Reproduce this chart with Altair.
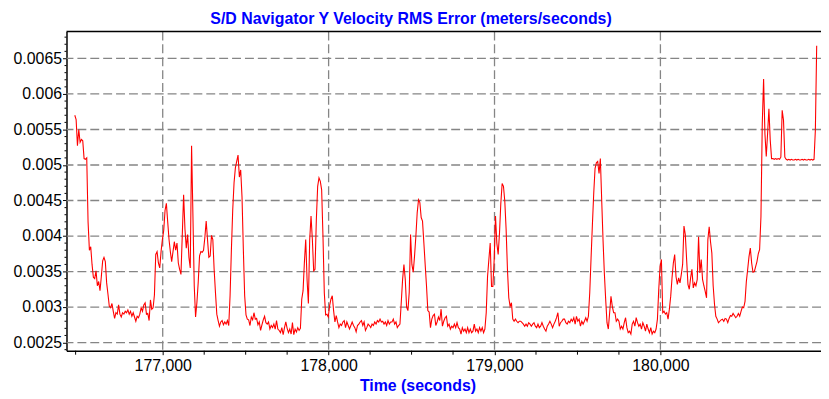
import altair as alt
import pandas as pd

# sample clock of the series (seconds), one sample every DT seconds
T0 = 176470
DT = 8

rms_error = [
    # segment 1
    0.00570, 0.00564, 0.00527, 0.00550, 0.00532, 0.00536, 0.00534, 0.00509, 0.00508, 0.00510,
    0.00420, 0.00380, 0.00385, 0.00360, 0.00342, 0.00340, 0.00351, 0.00330, 0.00336, 0.00323,
    0.00343, 0.00365, 0.00370, 0.00364, 0.00334, 0.00318, 0.00301, 0.00299, 0.00305, 0.00294,
    0.00284, 0.00292, 0.00290, 0.00303, 0.00290, 0.00286, 0.00292, 0.00290, 0.00294, 0.00292,
    0.00296, 0.00290, 0.00294, 0.00287, 0.00292, 0.00286, 0.00280, 0.00287, 0.00285, 0.00290,
    0.00299, 0.00294, 0.00303, 0.00306, 0.00290, 0.00291, 0.00281, 0.00310, 0.00297, 0.00299,
    0.00317, 0.00374, 0.00378, 0.00362, 0.00355, 0.00378, 0.00395, 0.00408, 0.00436, 0.00446,
    0.00420, 0.00395, 0.00378, 0.00364, 0.00378, 0.00392, 0.00380, 0.00390, 0.00362, 0.00353,
    0.00346, 0.00402, 0.00458, 0.00410, 0.00383, 0.00402, 0.00370, 0.00355, 0.00527, 0.00430,
    0.00330,
    # segment 2
    0.00286, 0.00306, 0.00335, 0.00372, 0.00378, 0.00377, 0.00380, 0.00398, 0.00421, 0.00395,
    0.00370, 0.00372, 0.00401, 0.00395, 0.00353, 0.00320, 0.00290, 0.00281, 0.00273, 0.00279,
    0.00281, 0.00275, 0.00279, 0.00276, 0.00281, 0.00274, 0.00316, 0.00381, 0.00437, 0.00475,
    0.00496, 0.00505, 0.00514, 0.00483, 0.00493, 0.00455, 0.00381, 0.00316, 0.00289, 0.00283,
    0.00282, 0.00274, 0.00286, 0.00282, 0.00292, 0.00283, 0.00284, 0.00275, 0.00279, 0.00267,
    0.00275, 0.00282, 0.00287, 0.00278, 0.00276, 0.00279, 0.00269, 0.00274, 0.00271, 0.00276,
    0.00269, 0.00281, 0.00269, 0.00267, 0.00264, 0.00271, 0.00261, 0.00271, 0.00279, 0.00270,
    0.00264, 0.00269, 0.00262, 0.00278, 0.00261, 0.00269, 0.00265, 0.00271, 0.00267, 0.00270,
    0.00311, 0.00323, 0.00363, 0.00395, 0.00339, 0.00305, 0.00395, 0.00428, 0.00395, 0.00351,
    0.00353, 0.00423, 0.00470,
    # segment 3
    0.00482, 0.00477, 0.00465, 0.00400, 0.00320, 0.00289, 0.00290, 0.00286, 0.00302, 0.00311,
    0.00316, 0.00295, 0.00279, 0.00288, 0.00279, 0.00271, 0.00276, 0.00274, 0.00279, 0.00281,
    0.00271, 0.00279, 0.00274, 0.00269, 0.00274, 0.00279, 0.00274, 0.00271, 0.00265, 0.00274,
    0.00276, 0.00279, 0.00281, 0.00274, 0.00279, 0.00267, 0.00271, 0.00276, 0.00274, 0.00271,
    0.00276, 0.00274, 0.00279, 0.00276, 0.00281, 0.00279, 0.00283, 0.00279, 0.00280, 0.00276,
    0.00279, 0.00274, 0.00281, 0.00276, 0.00279, 0.00279, 0.00283, 0.00276, 0.00279, 0.00271,
    0.00274, 0.00276, 0.00307, 0.00339, 0.00360, 0.00339, 0.00300, 0.00295, 0.00321, 0.00402,
    0.00360, 0.00349, 0.00372, 0.00400, 0.00433, 0.00451, 0.00447, 0.00426, 0.00421, 0.00391,
    0.00360, 0.00330, 0.00295, 0.00293, 0.00271, 0.00283, 0.00288, 0.00290, 0.00274, 0.00279,
    0.00286, 0.00281, 0.00297,
    # segment 4
    0.00273, 0.00280, 0.00285, 0.00287, 0.00273, 0.00276, 0.00269, 0.00273, 0.00271, 0.00276,
    0.00271, 0.00278, 0.00271, 0.00269, 0.00262, 0.00271, 0.00266, 0.00269, 0.00264, 0.00271,
    0.00264, 0.00269, 0.00264, 0.00266, 0.00276, 0.00266, 0.00269, 0.00264, 0.00271, 0.00266,
    0.00271, 0.00264, 0.00269, 0.00292, 0.00343, 0.00367, 0.00390, 0.00329, 0.00329, 0.00367,
    0.00428, 0.00390, 0.00374, 0.00404, 0.00446, 0.00474, 0.00470, 0.00449, 0.00409, 0.00353,
    0.00313, 0.00301, 0.00306, 0.00283, 0.00280, 0.00283, 0.00280, 0.00278, 0.00280, 0.00280,
    0.00278, 0.00276, 0.00273, 0.00276, 0.00273, 0.00278, 0.00276, 0.00273, 0.00276, 0.00278,
    0.00273, 0.00271, 0.00276, 0.00271, 0.00273, 0.00278, 0.00273, 0.00269, 0.00266, 0.00273,
    0.00276, 0.00280, 0.00276, 0.00271, 0.00276, 0.00280, 0.00285, 0.00292, 0.00273, 0.00278,
    0.00280, 0.00283, 0.00283,
    # segment 5
    0.00278, 0.00276, 0.00280, 0.00278, 0.00283, 0.00280, 0.00285, 0.00276, 0.00287, 0.00280,
    0.00283, 0.00273, 0.00280, 0.00276, 0.00280, 0.00285, 0.00280, 0.00287, 0.00320, 0.00369,
    0.00416, 0.00460, 0.00495, 0.00503, 0.00505, 0.00488, 0.00509, 0.00451, 0.00395, 0.00348,
    0.00311, 0.00278, 0.00269, 0.00292, 0.00315, 0.00301, 0.00292, 0.00292, 0.00280, 0.00283,
    0.00280, 0.00269, 0.00273, 0.00269, 0.00278, 0.00285, 0.00271, 0.00264, 0.00266, 0.00262,
    0.00276, 0.00280, 0.00273, 0.00285, 0.00278, 0.00273, 0.00276, 0.00269, 0.00278, 0.00273,
    0.00266, 0.00276, 0.00269, 0.00264, 0.00271, 0.00262, 0.00266, 0.00264, 0.00269, 0.00283,
    0.00325, 0.00357, 0.00367, 0.00292, 0.00294, 0.00290, 0.00292, 0.00283, 0.00297, 0.00315,
    0.00341, 0.00362, 0.00374, 0.00343, 0.00332, 0.00341, 0.00334, 0.00346, 0.00360, 0.00414,
    # segment 6
    0.00402, 0.00367, 0.00332, 0.00325, 0.00341, 0.00353, 0.00327, 0.00334, 0.00330, 0.00339,
    0.00399, 0.00348, 0.00367, 0.00339, 0.00330, 0.00322, 0.00313, 0.00395, 0.00413, 0.00392,
    0.00376, 0.00330, 0.00304, 0.00287, 0.00283, 0.00278, 0.00280, 0.00282, 0.00283, 0.00280,
    0.00284, 0.00283, 0.00278, 0.00284, 0.00288, 0.00287, 0.00291, 0.00288, 0.00285, 0.00287,
    0.00291, 0.00287, 0.00294, 0.00300, 0.00299, 0.00308, 0.00336, 0.00353, 0.00371, 0.00383,
    0.00362, 0.00349, 0.00350, 0.00357, 0.00364, 0.00375, 0.00381, 0.00427, 0.00558, 0.00621,
    0.00544, 0.00512, 0.00544, 0.00579, 0.00535, 0.00509, 0.00509, 0.00508, 0.00509, 0.00508,
    0.00509, 0.00508, 0.00511, 0.00577, 0.00563, 0.00511, 0.00508, 0.00507, 0.00508, 0.00507,
    0.00508, 0.00507, 0.00507, 0.00508, 0.00507, 0.00508, 0.00507, 0.00507, 0.00508, 0.00507,
    0.00508, 0.00507, 0.00507, 0.00508, 0.00507, 0.00508, 0.00507, 0.00508, 0.00549, 0.00668,
]
time_s = [T0 + DT * i for i in range(len(rms_error))]

X_MAJOR = [177000, 178000, 179000, 180000]
X_MINOR = [176475, 177250, 177500, 177750, 178250, 178500, 178750, 179250, 179500, 179750]
Y_MAJOR = [0.0025, 0.003, 0.0035, 0.004, 0.0045, 0.005, 0.0055, 0.006, 0.0065]
Y_MINOR = [round(0.0024 + 0.0001 * i, 4) for i in range(45)]
Y_MINOR = [v for v in Y_MINOR if round(v * 10000) % 5 != 0]

X_DOMAIN = [176420, 180968]
Y_DOMAIN = [0.002385, 0.00688]

W, H = 761, 322
FONT = "Liberation Sans"
BLUE = "#0000FF"
GRID = "#858585"

xscale = alt.Scale(domain=X_DOMAIN, nice=False, zero=False)
yscale = alt.Scale(domain=Y_DOMAIN, nice=False, zero=False)

xaxis = alt.Axis(
    values=X_MAJOR, labelExpr="format(datum.value, ',')", labelFont=FONT, labelFontSize=16,
    labelColor="#000000", tickSize=4, tickColor="#000000", labelPadding=3,
    domainColor="#000000", domainWidth=1.5, grid=False,
    title="Time (seconds)", titleFont=FONT, titleFontSize=16,
    titleFontWeight="bold", titleColor=BLUE, titleX=354, titleY=40,
    titleAlign="center", titleBaseline="alphabetic",
)
yaxis = alt.Axis(
    values=Y_MAJOR, labelExpr="format(datum.value, '.4~f')",
    labelFont=FONT, labelFontSize=16, labelColor="#000000",
    tickSize=4, tickColor="#000000", labelPadding=1,
    domainColor="#000000", domainWidth=1.5, grid=False, title="",
)

df = pd.DataFrame({"time": time_s, "rms": rms_error})

X = lambda: alt.X("time:Q", scale=xscale, axis=xaxis)
Y = lambda: alt.Y("rms:Q", scale=yscale, axis=yaxis)

vgrid = alt.Chart(pd.DataFrame({"time": X_MAJOR})).mark_rule(
    color=GRID, strokeDash=[9, 4], strokeWidth=1.3
).encode(x=X())

hgrid = alt.Chart(pd.DataFrame({"rms": Y_MAJOR})).mark_rule(
    color=GRID, strokeDash=[9, 4], strokeWidth=1.3
).encode(y=Y())

line = alt.Chart(df).mark_line(color="#FF0000", strokeWidth=1.1, clip=True).encode(
    x=X(), y=Y()
)

xminor = alt.Chart(pd.DataFrame({"time": X_MINOR})).mark_rule(color="#000000").encode(
    x=X(), y=alt.value(H), y2=alt.value(H + 4)
)
yminor = alt.Chart(pd.DataFrame({"rms": Y_MINOR})).mark_rule(color="#000000").encode(
    y=Y(), x=alt.value(-2), x2=alt.value(0)
)
topline = alt.Chart(pd.DataFrame({"a": [0]})).mark_rule(
    color="#000000", strokeWidth=1.5
).encode(x=alt.value(0), x2=alt.value(W), y=alt.value(0))

chart = alt.layer(vgrid, hgrid, line, xminor, yminor, topline).properties(
    width=W,
    height=H,
    padding={"left": 59, "top": 22, "right": 0, "bottom": 45},
    autosize=alt.AutoSizeParams(type="none"),
    title=alt.TitleParams(
        text="S/D Navigator Y Velocity RMS Error (meters/seconds)",
        font=FONT, fontSize=16, fontWeight="bold", color=BLUE,
        anchor="middle", dx=-33, dy=16, offset=7, baseline="alphabetic",
    ),
).configure_view(strokeWidth=0)

chart.save("out.html", embed_options={"renderer": "svg", "actions": False})
